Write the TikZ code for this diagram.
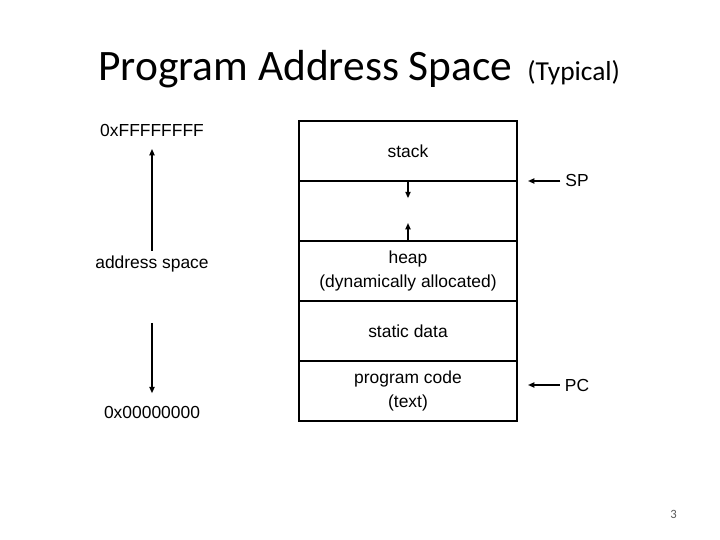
\documentclass[tikz,border=0pt]{standalone}
\usepackage{fontspec}
\setmainfont{Liberation Sans}
\newfontfamily\diafont{Carlito}
\usetikzlibrary{arrows.meta,positioning}
\tikzset{
  rekesz/.style={draw,line width=1.1pt,minimum width=5.45cm,minimum height=1.5cm,align=center,
                 inner sep=0pt,outer sep=0pt},
  kisnyil/.style={-{Triangle[length=1.6mm,width=1.3mm]},line width=1pt},
  mutato/.style={-{Triangle[length=1.6mm,width=1.3mm]},line width=1pt},
  felirat/.style={font=\fontsize{12.4}{17}\selectfont},
}

\begin{document}
\begin{tikzpicture}[felirat]
  \useasboundingbox (0,0) rectangle (18,13.5);
  % cim
  \node[anchor=base west,inner sep=0pt,font=\diafont\fontsize{30.9}{36}\selectfont] (cim) at (2.45,11.475)
    {Program Address Space};
  \node[anchor=base west,inner sep=0pt,font=\diafont\fontsize{19.5}{24}\selectfont] (tipikus)
    at ([xshift=0.36cm]cim.base east) {(Typical)};
  % memoria rekeszek
  \node[rekesz] (stack) at (10.2,9.725) {stack};
  \node[rekesz,below=0pt of stack] (res) {};
  \node[rekesz,below=0pt of res] (heap) {heap\\(dynamically allocated)};
  \node[rekesz,below=0pt of heap] (data) {static data};
  \node[rekesz,below=0pt of data] (code) {program code\\(text)};
  \coordinate[below=0.43cm of res.north] (le);
  \coordinate[above=0.45cm of res.south] (fel);
  \draw[kisnyil] (res.north) -- (le);
  \draw[kisnyil] (res.south) -- (fel);
  % mutatok
  \node (sp) at (14.425,8.975) {SP};
  \node (pc) at (14.425,3.875) {PC};
  \coordinate (sphegy) at (13.2,8.975);
  \coordinate (pchegy) at (13.2,3.875);
  \draw[mutato] (sp) -- (sphegy);
  \draw[mutato] (pc) -- (pchegy);
  % bal oldal: cimtartomany
  \node (felso) at (3.8,10.225) {0xFFFFFFFF};
  \node (tart) at (3.8,6.905) {address space};
  \node (also) at (3.8,3.2) {0x00000000};
  \coordinate (lefele) at (3.8,5.425);
  \draw[mutato,shorten >=0.17cm] (tart.north) -- (felso.south);
  \draw[mutato,shorten >=0.19cm] (lefele) -- (also.north);
  % oldalszam
  \node[font=\diafont\fontsize{9}{11}\selectfont,text=black!65] (oldal) at (16.84,0.63) {3};
\end{tikzpicture}
\end{document}
